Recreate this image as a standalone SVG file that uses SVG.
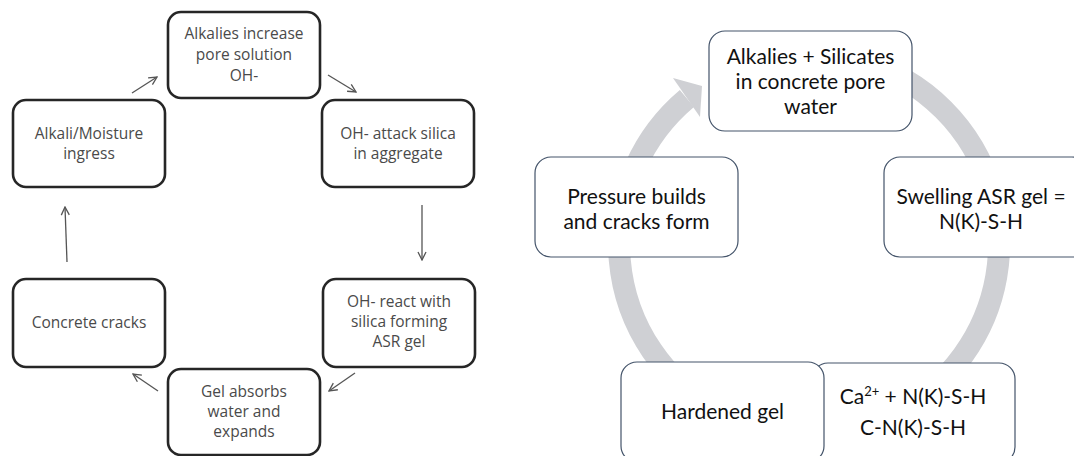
<svg xmlns="http://www.w3.org/2000/svg" width="1074" height="456" viewBox="0 0 1074 456">
<defs>
<style>
.lb{fill:#fff;stroke:#262626;stroke-width:2.6}
.lt{font-family:"Open Sans",sans-serif;font-size:15.5px;fill:#4a4a4a;text-anchor:middle}
.ar{fill:none;stroke:#555;stroke-width:1.3}
.rb{fill:#fff;stroke:#44546a;stroke-width:1.2}
.rt{font-family:Lato,"Liberation Sans",sans-serif;font-size:21px;fill:#111;text-anchor:middle}
.ring{fill:none;stroke:#cfd0d4;stroke-width:22}
</style>
<marker id="ah" viewBox="0 0 10 10" refX="9" refY="5" markerWidth="10" markerHeight="10" markerUnits="userSpaceOnUse" orient="auto">
<path d="M1,1 L9,5 L1,9" fill="none" stroke="#555" stroke-width="1.3"/>
</marker>
</defs>
<rect width="1074" height="456" fill="#fff"/>
<g id="connectors">
<line class="ar" x1="132" y1="93" x2="157" y2="77" marker-end="url(#ah)"/>
<line class="ar" x1="328" y1="75" x2="356" y2="92" marker-end="url(#ah)"/>
<line class="ar" x1="422" y1="205" x2="422" y2="260" marker-end="url(#ah)"/>
<line class="ar" x1="355" y1="373" x2="329" y2="391" marker-end="url(#ah)"/>
<line class="ar" x1="158" y1="391" x2="133" y2="374" marker-end="url(#ah)"/>
<line class="ar" x1="67" y1="262" x2="65" y2="207" marker-end="url(#ah)"/>
<g id="cycle-arrow">
<path class="ring" d="M776,56.9 A190,190 0 1 1 686.9,98.5"/>
<polygon points="673,78 702,86 700,117" fill="#cfd0d4"/>
</g>
</g>
<g id="n1"><rect class="lb" x="168" y="12" width="152" height="86" rx="13"/>
<text class="lt" x="244" y="39">Alkalies increase</text><text class="lt" x="244" y="60">pore solution</text><text class="lt" x="244" y="81">OH-</text></g>
<g id="n2"><rect class="lb" x="13" y="100" width="152" height="87" rx="13"/>
<text class="lt" x="89" y="139">Alkali/Moisture</text><text class="lt" x="89" y="159">ingress</text></g>
<g id="n3"><rect class="lb" x="322" y="100" width="152" height="87" rx="13"/>
<text class="lt" x="398" y="139">OH- attack silica</text><text class="lt" x="398" y="159">in aggregate</text></g>
<g id="n4"><rect class="lb" x="323" y="279" width="152" height="88" rx="13"/>
<text class="lt" x="399" y="307">OH- react with</text><text class="lt" x="399" y="327">silica forming</text><text class="lt" x="399" y="347">ASR gel</text></g>
<g id="n5"><rect class="lb" x="13" y="279" width="152" height="88" rx="13"/>
<text class="lt" x="89" y="328">Concrete cracks</text></g>
<g id="n6"><rect class="lb" x="168" y="369" width="152" height="86" rx="13"/>
<text class="lt" x="244" y="397">Gel absorbs</text><text class="lt" x="244" y="417">water and</text><text class="lt" x="244" y="437">expands</text></g>
<g id="r1"><rect class="rb" x="709" y="31" width="203" height="100" rx="16"/>
<text class="rt" x="810.5" y="64">Alkalies + Silicates</text><text class="rt" x="810.5" y="89">in concrete pore</text><text class="rt" x="810.5" y="114">water</text></g>
<g id="r2"><rect class="rb" x="884" y="157" width="204" height="100" rx="16"/>
<text class="rt" x="981" y="204">Swelling ASR gel =</text><text class="rt" x="981" y="229">N(K)-S-H</text></g>
<g id="r3"><rect class="rb" x="812" y="363" width="203" height="100" rx="16"/>
<text class="rt" x="913" y="404">Ca<tspan font-size="13" dy="-8">2+</tspan><tspan dy="8"> + N(K)-S-H</tspan></text><text class="rt" x="913" y="435">C-N(K)-S-H</text></g>
<g id="r4"><rect class="rb" x="621" y="362" width="203" height="100" rx="16"/>
<text class="rt" x="722.5" y="419">Hardened gel</text></g>
<g id="r5"><rect class="rb" x="535" y="157" width="203" height="100" rx="16"/>
<text class="rt" x="636.5" y="204">Pressure builds</text><text class="rt" x="636.5" y="229">and cracks form</text></g>
</svg>
